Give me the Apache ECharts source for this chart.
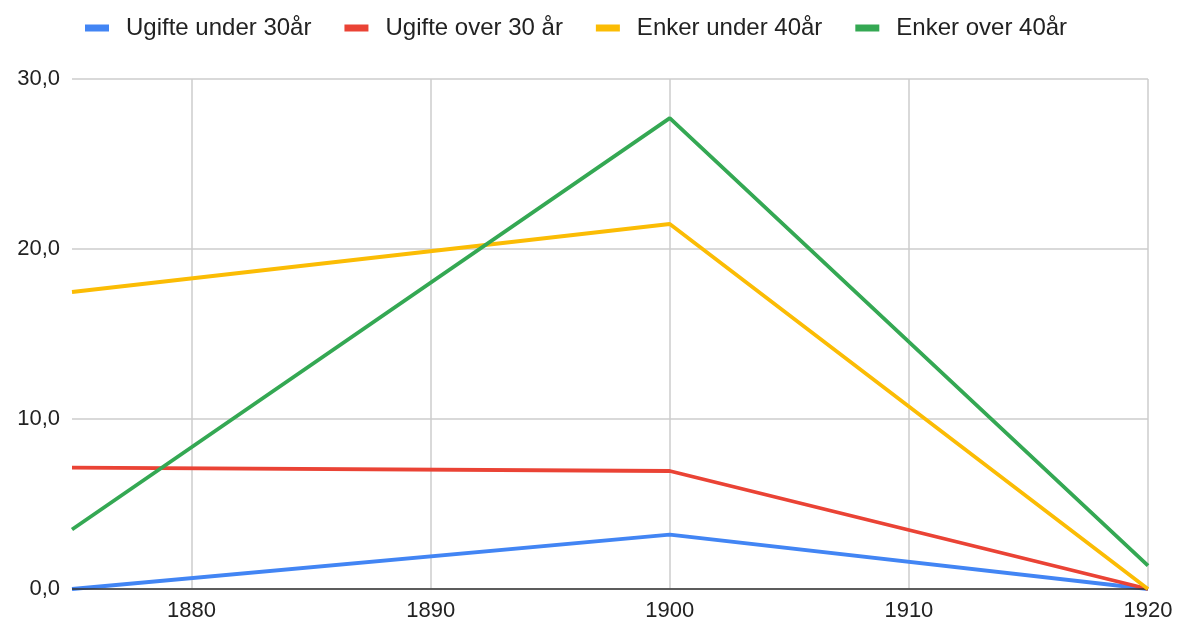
<!DOCTYPE html>
<html>
<head>
<meta charset="utf-8">
<script src="https://cdn.jsdelivr.net/npm/echarts@6/dist/echarts.min.js"></script>
<style>
  html, body { margin: 0; padding: 0; background: #fff; }
  #chart { width: 1178px; height: 624px; }
</style>
</head>
<body>
<div id="chart"></div>
<script>
// years on a value axis
const years = [1875, 1900, 1920]
const yearTicks = [1880, 1890, 1900, 1910, 1920]

const seriesNames = ['Ugifte under 30år', 'Ugifte over 30 år', 'Enker under 40år', 'Enker over 40år']
const ugifteUnder30 = [0, 3.2, 0]
const ugifteOver30 = [7.14, 6.94, 0]
const enkerUnder40 = [17.47, 21.47, 0]
const enkerOver40 = [3.5, 27.7, 1.37]

const colors = ['#4285f4', '#ea4335', '#fbbc04', '#34a853']
const allValues = [ugifteUnder30, ugifteOver30, enkerUnder40, enkerOver40]

const chart = echarts.init(document.getElementById('chart'))

const option = {
  animation: false,
  color: colors,
  textStyle: { fontFamily: 'Liberation Sans' },
  legend: {
    top: 11,
    left: 80,
    icon: 'rect',
    itemWidth: 24,
    itemHeight: 7,
    itemGap: 33,
    textStyle: { fontSize: 24, color: '#222', padding: [0, 0, 0, 12] },
    data: seriesNames
  },
  grid: { left: 72, right: 30, top: 79, bottom: 35 },
  xAxis: {
    type: 'value',
    min: 1875,
    max: 1920,
    axisLine: { show: false },
    axisTick: { show: false, customValues: yearTicks },
    axisLabel: { customValues: yearTicks, fontSize: 22, color: '#222', margin: 11, formatter: v => String(v) },
    splitLine: { show: true, lineStyle: { color: '#cccccc', width: 1.5 } }
  },
  yAxis: {
    type: 'value',
    min: 0,
    max: 30,
    interval: 10,
    axisLine: { show: false },
    axisTick: { show: false },
    axisLabel: {
      fontSize: 22,
      color: '#222',
      margin: 12,
      formatter: v => v.toFixed(1).replace('.', ',')
    },
    splitLine: { lineStyle: { color: '#cccccc', width: 1.5 } }
  },
  series: seriesNames.map((name, i) => ({
    name,
    type: 'line',
    showSymbol: false,
    lineStyle: { width: 3.8 },
    data: years.map((y, j) => [y, allValues[i][j]]),
    z: 3 + i
  })).concat([{
    // black baseline at zero
    type: 'line',
    data: [],
    silent: true,
    markLine: {
      silent: true,
      symbol: 'none',
      label: { show: false },
      lineStyle: { color: '#333', width: 1.5, type: 'solid' },
      data: [{ yAxis: 0 }]
    },
    z: 1
  }])
}

chart.setOption(option)
</script>
</body>
</html>
